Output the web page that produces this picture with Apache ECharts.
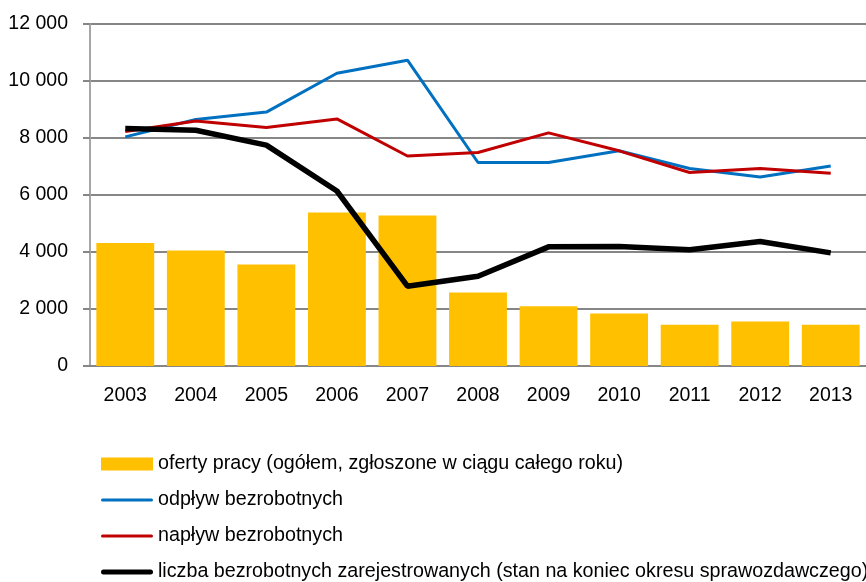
<!DOCTYPE html>
<html>
<head>
<meta charset="utf-8">
<script src="https://cdn.jsdelivr.net/npm/echarts@6/dist/echarts.min.js"></script>
<style>
  html, body { margin: 0; padding: 0; background: #fff; }
  #main { width: 866px; height: 582px; }
</style>
</head>
<body>
<div id="main"></div>
<script>
var lata = ['2003', '2004', '2005', '2006', '2007', '2008', '2009', '2010', '2011', '2012', '2013'];
var oferty = [4320, 4050, 3560, 5390, 5280, 2580, 2100, 1840, 1450, 1560, 1450];
var odplyw = [8040, 8650, 8910, 10270, 10730, 7140, 7140, 7550, 6930, 6630, 7020];
var naplyw = [8230, 8600, 8370, 8670, 7370, 7490, 8180, 7550, 6790, 6930, 6760];
var liczba = [8330, 8270, 7750, 6140, 2800, 3150, 4180, 4190, 4080, 4370, 3970];

var nazwy = [
    'oferty pracy (ogółem, zgłoszone w ciągu całego roku)',
    'odpływ bezrobotnych',
    'napływ bezrobotnych',
    'liczba bezrobotnych zarejestrowanych (stan na koniec okresu sprawozdawczego)'
];

var czcionka = "'Liberation Sans', Arial, sans-serif";

var myChart = echarts.init(document.getElementById('main'));

var option = {
    animation: false,
    grid: {
        left: 90,
        top: 24,
        width: 782,
        bottom: 216
    },
    legend: {
        orient: 'vertical',
        left: 101,
        top: 454,
        height: 160,
        padding: 0,
        itemWidth: 52,
        itemHeight: 13,
        itemGap: 16,
        textStyle: { color: '#000', fontSize: 19.7, fontFamily: czcionka },
        data: [
            { name: nazwy[0], icon: 'rect' },
            { name: nazwy[1], icon: 'path://M1.5,0H50.5A1.5,1.5,0,0,1,50.5,3H1.5A1.5,1.5,0,0,1,1.5,0Z' },
            { name: nazwy[2], icon: 'path://M1.5,0H50.5A1.5,1.5,0,0,1,50.5,3H1.5A1.5,1.5,0,0,1,1.5,0Z' },
            { name: nazwy[3], icon: 'path://M2.5,0H49.5A2.5,2.5,0,0,1,49.5,5H2.5A2.5,2.5,0,0,1,2.5,0Z' }
        ]
    },
    xAxis: {
        type: 'category',
        data: lata,
        axisLine: { lineStyle: { color: '#868686', width: 2 } },
        axisTick: { length: 7, lineStyle: { color: '#868686', width: 2 } },
        axisLabel: { color: '#000', fontSize: 19.5, fontFamily: czcionka, margin: 20 }
    },
    yAxis: {
        type: 'value',
        min: 0,
        max: 12000,
        interval: 2000,
        axisLine: { show: true, lineStyle: { color: '#a6a6a6', width: 2 } },
        axisTick: { show: true, length: 7, lineStyle: { color: '#868686', width: 2 } },
        splitLine: { lineStyle: { color: '#868686', width: 2 } },
        axisLabel: {
            color: '#000', fontSize: 19.5, fontFamily: czcionka, margin: 22,
            formatter: function (v) {
                return String(v).replace(/\B(?=(\d{3})+(?!\d))/g, ' ');
            }
        }
    },
    series: [
        {
            name: nazwy[0],
            type: 'bar',
            data: oferty,
            barCategoryGap: '18%',
            itemStyle: { color: '#FFC000' }
        },
        {
            name: nazwy[1],
            type: 'line',
            data: odplyw,
            symbol: 'none',
            lineStyle: { color: '#0070C0', width: 3 },
            itemStyle: { color: '#0070C0' }
        },
        {
            name: nazwy[2],
            type: 'line',
            data: naplyw,
            symbol: 'none',
            lineStyle: { color: '#C00000', width: 3 },
            itemStyle: { color: '#C00000' }
        },
        {
            name: nazwy[3],
            type: 'line',
            data: liczba,
            symbol: 'none',
            lineStyle: { color: '#000', width: 5.5 },
            itemStyle: { color: '#000' }
        }
    ]
};

myChart.setOption(option);
</script>
</body>
</html>
